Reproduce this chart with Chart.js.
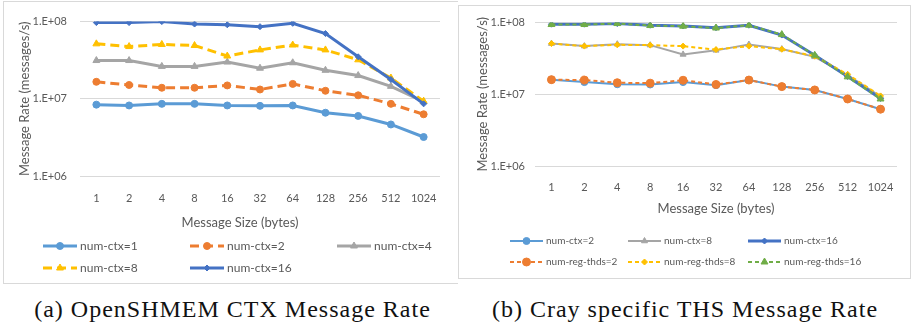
<!DOCTYPE html>
<html>
<head>
<meta charset="utf-8">
<script src="https://cdn.jsdelivr.net/npm/chart.js@4.4.0/dist/chart.umd.min.js"></script>
<style>
  body { margin: 0; background: #fff; width: 911px; height: 331px; position: relative; overflow: hidden; }
  .panel { position: absolute; border: 1px solid #d9d9d9; }
  #panelA { left: 3px; top: 1px; width: 454px; height: 281px; border-right: none; }
  #panelB { left: 458px; top: 5px; width: 451px; height: 272px; }
  canvas { position: absolute; }
  #chartA { left: 4px; top: 2px; }
  #chartB { left: 459px; top: 6px; }
  .caption { position: absolute; top: 295px; height: 28px; line-height: 28px; text-align: center;
             font-family: "Liberation Serif", serif; font-size: 24px; letter-spacing: 1px; color: #111; white-space: nowrap; }
  #capA { left: 0; width: 465px; }
  #capB { left: 470px; width: 430px; }
</style>
</head>
<body>
<div class="panel" id="panelA"></div>
<div class="panel" id="panelB"></div>
<canvas id="chartA" width="450" height="280"></canvas>
<canvas id="chartB" width="450" height="271"></canvas>
<div class="caption" id="capA">(a) OpenSHMEM CTX Message Rate</div>
<div class="caption" id="capB">(b) Cray specific THS Message Rate</div>
<script>
// message sizes (bytes) on the x axis
const sizes = ['1', '2', '4', '8', '16', '32', '64', '128', '256', '512', '1024'];
const yTicks = [1e6, 1e7, 1e8];

// (a) OpenSHMEM CTX message rate (messages/s)
const ctx1  = [8.4e6, 8.2e6, 8.6e6, 8.6e6, 8.2e6, 8.1e6, 8.2e6, 6.6e6, 6.0e6, 4.65e6, 3.2e6];
const ctx2  = [1.66e7, 1.51e7, 1.39e7, 1.39e7, 1.49e7, 1.32e7, 1.56e7, 1.27e7, 1.11e7, 8.6e6, 6.3e6];
const ctx4  = [3.13e7, 3.13e7, 2.63e7, 2.63e7, 2.99e7, 2.49e7, 2.93e7, 2.34e7, 2.0e7, 1.45e7, 9.2e6];
const ctx8  = [5.15e7, 4.75e7, 5.06e7, 4.9e7, 3.58e7, 4.3e7, 4.97e7, 4.3e7, 3.2e7, 1.86e7, 9.3e6];
const ctx16 = [9.7e7, 9.7e7, 1.0e8, 9.3e7, 9.1e7, 8.6e7, 9.5e7, 7.0e7, 3.5e7, 1.78e7, 8.6e6];

// (b) Cray specific THS message rate (messages/s)
const thsCtx2   = [1.6e7, 1.48e7, 1.38e7, 1.37e7, 1.48e7, 1.34e7, 1.58e7, 1.28e7, 1.15e7, 8.6e6, 6.2e6];
const thsCtx8   = [5.1e7, 4.7e7, 5.0e7, 4.85e7, 3.6e7, 4.1e7, 4.95e7, 4.27e7, 3.33e7, 1.85e7, 9.3e6];
const thsCtx16  = [9.5e7, 9.5e7, 9.7e7, 9.2e7, 8.96e7, 8.5e7, 9.2e7, 6.7e7, 3.5e7, 1.77e7, 8.75e6];
const regThds2  = [1.6e7, 1.58e7, 1.45e7, 1.43e7, 1.57e7, 1.37e7, 1.58e7, 1.28e7, 1.15e7, 8.6e6, 6.2e6];
const regThds8  = [5.1e7, 4.7e7, 4.9e7, 4.85e7, 4.7e7, 4.2e7, 4.7e7, 4.25e7, 3.4e7, 1.9e7, 9.5e6];
const regThds16 = [9.4e7, 9.4e7, 9.7e7, 9.1e7, 8.9e7, 8.4e7, 9.2e7, 6.8e7, 3.5e7, 1.75e7, 8.6e6];

const GREY_TEXT = '#595959';
const FONT = 'Lato';

function series(label, data, color, style, radius, width, dash) {
  return {
    label: label, data: data,
    borderColor: color, backgroundColor: color,
    pointBackgroundColor: color, pointBorderColor: color,
    pointStyle: style, pointRadius: radius, pointBorderWidth: 1,
    borderWidth: width, borderDash: dash || [],
    tension: 0, fill: false
  };
}

// excel style legend: short line with the marker in the middle, fixed grid
const excelLegend = {
  id: 'excelLegend',
  afterDraw(chart, args, o) {
    const c = chart.ctx;
    chart.data.datasets.forEach(function(ds, i) {
      const x = o.cols[i % 3], y = o.rows[Math.floor(i / 3)];
      c.save();
      c.strokeStyle = ds.borderColor;
      c.lineWidth = ds.borderWidth;
      c.setLineDash(ds.borderDash);
      c.beginPath();
      c.moveTo(x, y);
      c.lineTo(x + o.len, y);
      c.stroke();
      c.setLineDash([]);
      c.fillStyle = ds.borderColor;
      c.lineWidth = 1;
      Chart.helpers.drawPoint(c, { pointStyle: ds.pointStyle, radius: ds.pointRadius, borderWidth: 1, rotation: 0 }, x + o.len / 2, y);
      c.fillStyle = GREY_TEXT;
      c.font = o.size + 'px ' + FONT;
      c.textBaseline = 'middle';
      c.textAlign = 'left';
      c.fillText(ds.label, x + o.len + 3, y);
      c.restore();
    });
  }
};

function makeOptions(o) {
  return {
    responsive: false,
    animation: false,
    layout: { padding: { top: 13, right: o.right, bottom: o.bottom, left: 0 } },
    plugins: {
      legend: { display: false },
      tooltip: { enabled: false },
      excelLegend: o.legend
    },
    scales: {
      x: {
        offset: true,
        grid: { display: false },
        border: { display: false },
        ticks: { color: GREY_TEXT, font: { family: FONT, size: 11 }, padding: o.xPad, maxRotation: 0, autoSkip: false },
        title: { display: true, text: o.xTitle, color: GREY_TEXT,
                 font: { family: FONT, size: 13 }, padding: { top: o.xTitleTop, bottom: 0 } }
      },
      y: {
        type: 'logarithmic',
        min: 1e6, max: 1e8,
        afterBuildTicks: function(s) { s.ticks = yTicks.map(function(v) { return { value: v }; }); },
        afterFit: function(s) { s.width = 76; },
        grid: { color: '#d9d9d9', lineWidth: 1, drawTicks: false },
        border: { display: false },
        ticks: {
          color: GREY_TEXT, font: { family: FONT, size: 11 }, padding: o.yPad,
          callback: function(v) { return '1.E+' + String(Math.round(Math.log10(v))).padStart(2, '0'); }
        },
        title: { display: true, text: 'Message Rate (messages/s)', color: GREY_TEXT,
                 font: { family: FONT, size: 13 }, padding: { top: o.yTitleTop, bottom: 0 } }
      }
    }
  };
}

function ordered(list) {
  // later series drawn on top, like the spreadsheet
  list.forEach(function(d, i) { d.order = list.length - i; });
  return list;
}

new Chart(document.getElementById('chartA'), {
  type: 'line',
  data: {
    labels: sizes,
    datasets: ordered([
      series('num-ctx=1', ctx1, '#5B9BD5', 'circle', 3.5, 3),
      series('num-ctx=2', ctx2, '#ED7D31', 'circle', 3.5, 3, [9, 5]),
      series('num-ctx=4', ctx4, '#A5A5A5', 'triangle', 4, 3),
      series('num-ctx=8', ctx8, '#FFC000', 'triangle', 4, 3, [9, 5]),
      series('num-ctx=16', ctx16, '#4472C4', 'rectRot', 3, 3)
    ])
  },
  options: makeOptions({
    right: 14, bottom: 51.2, xPad: 8, xTitleTop: 2, yPad: 13, yTitleTop: 13,
    // title sits a little left of the plot centre in the original
    xTitle: 'Message Size (bytes)' + '\u00a0'.repeat(12),
    legend: { cols: [39, 186, 333], rows: [244, 266], len: 34, size: 12 }
  }),
  plugins: [excelLegend]
});

new Chart(document.getElementById('chartB'), {
  type: 'line',
  data: {
    labels: sizes,
    datasets: ordered([
      series('num-ctx=2', thsCtx2, '#5B9BD5', 'circle', 3.5, 2),
      series('num-ctx=8', thsCtx8, '#A5A5A5', 'triangle', 3.5, 2),
      series('num-ctx=16', thsCtx16, '#4472C4', 'rectRot', 3, 3),
      series('num-reg-thds=2', regThds2, '#ED7D31', 'circle', 4, 2, [4, 3]),
      series('num-reg-thds=8', regThds8, '#FFC000', 'rectRot', 3, 2, [4, 3]),
      series('num-reg-thds=16', regThds16, '#70AD47', 'triangle', 4, 2, [4, 3])
    ])
  },
  options: makeOptions({
    right: 12, bottom: 60.2, xPad: 7, xTitleTop: 0, yPad: 10, yTitleTop: 16,
    xTitle: 'Message Size (bytes)',
    legend: { cols: [51, 169, 289], rows: [235, 256], len: 33, size: 10 }
  }),
  plugins: [excelLegend]
});
</script>
</body>
</html>
